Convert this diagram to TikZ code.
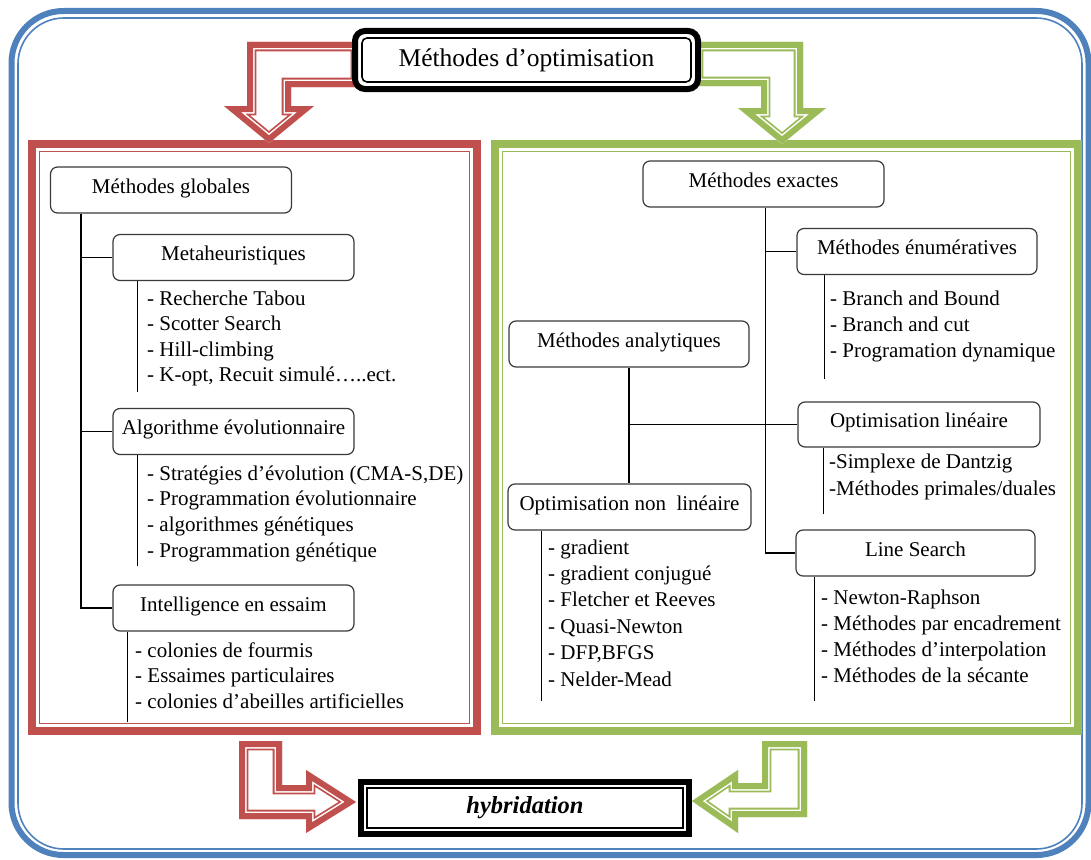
\documentclass[tikz,border=0pt]{standalone}
\usepackage{fontspec}
\setmainfont{Liberation Serif}
\definecolor{frameblue}{HTML}{4F81BD}
\definecolor{panelred}{HTML}{C0504D}
\definecolor{panelgreen}{HTML}{9BBB59}
\definecolor{boxline}{HTML}{3A3A3A}
% hollow block arrow: thick outer band, thin white gap, thin inner line,
% all kept inside the outline by clipping
\newcommand\blockarrow[2]{%
  \begin{scope}
    \clip #2 -- cycle;
    \fill[white] #2 -- cycle;
    \draw[#1,line width=18.6pt,line join=miter] #2 -- cycle;
    \draw[white,line width=15pt,line join=miter] #2 -- cycle;
    \draw[#1,line width=12pt,line join=miter] #2 -- cycle;
  \end{scope}}
\begin{document}
\begin{tikzpicture}[x=1pt,y=-1pt,
  txt/.style={font=\fontsize{21}{25}\selectfont},
  mbox/.style={txt,draw=boxline,line width=1.2pt,rounded corners=7pt,fill=white,
    inner sep=0pt,minimum width=241pt,minimum height=46pt,text height=14pt,text depth=8pt},
  item/.style={txt,anchor=west,inner sep=0pt,text height=14pt,text depth=4pt},
  link/.style={line width=1.2pt,black},
]
\useasboundingbox (0,0) rectangle (1091,859);

% outer frame
\draw[frameblue,line width=6pt,rounded corners=52pt] (11.5,11) rectangle (1088.5,855);
\draw[frameblue,line width=1.6pt,rounded corners=46pt] (18,18) rectangle (1082,849);

% the two panels
\draw[draw=panelred,line width=8pt] (32,144) rectangle (477,731);
\draw[draw=panelred,line width=1.8pt] (39.5,151.5) rectangle (469.5,723.5);
\draw[draw=panelgreen,line width=8pt] (495,144) rectangle (1078,731);
\draw[draw=panelgreen,line width=1.8pt] (502.5,151.5) rectangle (1070.5,723.5);

% bent block arrows
\blockarrow{panelred}{(360,42) -- (247,42) -- (247,106) -- (224,106) -- (269,143)
  -- (314,106) -- (291,106) -- (291,87) -- (360,87)}
\blockarrow{panelgreen}{(694,42) -- (803,42) -- (803,108) -- (826,108) -- (782,144)
  -- (738,108) -- (761,108) -- (761,86) -- (694,86)}
\blockarrow{panelred}{(282,741) -- (239,741) -- (239,819) -- (306,819) -- (306,833)
  -- (356,802) -- (306,770) -- (306,785) -- (282,785)}
\blockarrow{panelgreen}{(762,741) -- (807,741) -- (807,817) -- (738,817) -- (738,833)
  -- (692,801) -- (738,770) -- (738,783) -- (762,783)}

% title box
\node[draw=black,line width=6pt,rounded corners=10pt,fill=white,inner sep=0pt,
  minimum width=343pt,minimum height=58pt] (titleouter) at (526.5,60) {};
\node[draw=black,line width=1.6pt,rounded corners=5pt,inner sep=0pt,
  minimum width=329pt,minimum height=44pt,font=\fontsize{25.5}{30}\selectfont]
  (title) at (titleouter.center) {Méthodes d’optimisation};

% hybridation box
\node[draw=black,line width=6pt,fill=white,inner sep=0pt,
  minimum width=328pt,minimum height=52pt] (hybouter) at (525,808) {};
\node[draw=black,line width=1.6pt,inner sep=0pt,minimum width=316pt,minimum height=40pt,
  font=\fontsize{24.5}{29}\selectfont\bfseries\itshape] (hyb) at (hybouter.center) {hybridation};

% left panel: global methods
\node[mbox] (glob) at (171,190) {Méthodes globales};
\node[mbox] (meta) at (233.5,257.5) {Metaheuristiques};
\node[mbox] (algo) at (233.5,431.5) {Algorithme évolutionnaire};
\node[mbox] (intel) at (233.5,608) {Intelligence en essaim};

\draw[link] (glob.south west) ++(31,0) |- (intel.west);
\draw[link] (meta.west) -- ++(-32,0);
\draw[link] (algo.west) -- ++(-32,0);

\draw[link] (meta.south west) ++(25,0) -- ++(0,111);
\draw[link] (algo.south west) ++(25,0) -- ++(0,111);
\draw[link] (intel.south west) ++(15,0) -- ++(0,90);

\foreach \t [count=\i from 0] in {- Recherche Tabou, - Scotter Search, - Hill-climbing,
    {- K-opt, Recuit simulé…..ect.}}
  \node[item] (meta\i) at (147,{300+25.5*\i}) {\t};
\foreach \t [count=\i from 0] in {{- Stratégies d’évolution (CMA-S,DE)},
    - Programmation évolutionnaire, - algorithmes génétiques, - Programmation génétique}
  \node[item] (algo\i) at (147,{475+25.7*\i}) {\t};
\foreach \t [count=\i from 0] in {- colonies de fourmis, - Essaimes particulaires,
    - colonies d’abeilles artificielles}
  \node[item] (intel\i) at (135,{652+25.5*\i}) {\t};

% right panel: exact methods
\node[mbox] (exactes) at (763.5,184) {Méthodes exactes};
\node[mbox,minimum width=240pt] (enum) at (917,251.5) {Méthodes énumératives};
\node[mbox,minimum width=240pt] (analyt) at (629,344) {Méthodes analytiques};
\node[mbox,minimum width=242pt,minimum height=45pt] (lin) at (919,424.5) {Optimisation linéaire};
\node[mbox,minimum width=243pt] (nonlin) at (629.5,507) {Optimisation non\ \ linéaire};
\node[mbox,minimum width=239pt] (ls) at (915.5,553) {Line Search};

\draw[link] (exactes.south west) ++(123,0) |- (ls.west);
\draw[link] (enum.west) -- ++(-31,0);
\draw[link] (analyt.south) -- (analyt.south |- nonlin.north);
\draw[link] (lin.west) -- (lin.west -| analyt.south);

\draw[link] (enum.south west) ++(28,0) -- ++(0,104);
\draw[link] (lin.south west) ++(26,0) -- ++(0,66);
\draw[link] (nonlin.south west) ++(34,0) -- ++(0,170);
\draw[link] (ls.south west) ++(19,0) -- ++(0,124);

\foreach \t [count=\i from 0] in {- Branch and Bound, - Branch and cut, - Programation dynamique}
  \node[item] (enum\i) at (830,{300+26*\i}) {\t};
\foreach \t [count=\i from 0] in {-Simplexe de Dantzig, -Méthodes primales/duales}
  \node[item] (lin\i) at (829,{463+27*\i}) {\t};
\foreach \t [count=\i from 0] in {- gradient, - gradient conjugué, - Fletcher et Reeves,
    - Quasi-Newton, {- DFP,BFGS}, - Nelder-Mead}
  \node[item] (nonlin\i) at (548,{549+26.4*\i}) {\t};
\foreach \t [count=\i from 0] in {- Newton-Raphson, - Méthodes par encadrement,
    - Méthodes d’interpolation, - Méthodes de la sécante}
  \node[item] (ls\i) at (821,{599+26.3*\i}) {\t};
\end{tikzpicture}
\end{document}
